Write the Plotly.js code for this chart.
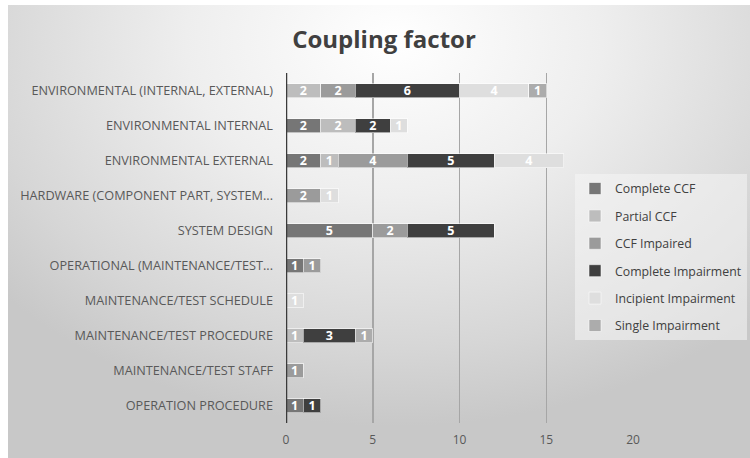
<!DOCTYPE html>
<html>
<head>
<meta charset="utf-8">
<script src="https://cdn.plot.ly/plotly-3.0.1.min.js"></script>
<style>
html,body{margin:0;padding:0;background:#fff;}
#bg{position:absolute;left:8px;top:5px;width:742px;height:453px;
 background:radial-gradient(ellipse 70% 85% at 52% 8%, #ffffff 0%, #eeeeee 40%, #d6d6d6 80%, #c8c8c8 100%);}
#chart{position:absolute;left:0;top:0;width:750px;height:458px;}
</style>
</head>
<body>
<div id="bg"></div>
<div id="chart"></div>
<script>
// categories, bottom to top
const categories = [
  "OPERATION PROCEDURE",
  "MAINTENANCE/TEST STAFF",
  "MAINTENANCE/TEST PROCEDURE",
  "MAINTENANCE/TEST SCHEDULE",
  "OPERATIONAL (MAINTENANCE/TEST...",
  "SYSTEM DESIGN",
  "HARDWARE (COMPONENT PART, SYSTEM...",
  "ENVIRONMENTAL EXTERNAL",
  "ENVIRONMENTAL INTERNAL",
  "ENVIRONMENTAL (INTERNAL, EXTERNAL)"
];
const completeCCF         = [1, 0, 0, 0, 1, 5, 0, 2, 2, 0];
const partialCCF          = [0, 0, 1, 0, 0, 0, 0, 1, 2, 2];
const ccfImpaired         = [0, 1, 0, 0, 1, 2, 2, 4, 0, 2];
const completeImpairment  = [1, 0, 3, 0, 0, 5, 0, 5, 2, 6];
const incipientImpairment = [0, 0, 0, 1, 0, 0, 1, 4, 1, 4];
const singleImpairment    = [0, 0, 1, 0, 0, 0, 0, 0, 0, 1];

const seriesNames = ["Complete CCF","Partial CCF","CCF Impaired","Complete Impairment","Incipient Impairment","Single Impairment"];
const seriesValues = [completeCCF, partialCCF, ccfImpaired, completeImpairment, incipientImpairment, singleImpairment];
const seriesColors = ["#767676","#bdbdbd","#9b9b9b","#3f3f3f","#dedede","#acacac"];

const traces = seriesNames.map((name, i) => ({
  type: 'bar',
  orientation: 'h',
  name: name,
  legendgroup: 'g' + i,
  y: categories,
  x: seriesValues[i].map(v => v === 0 ? null : v),
  text: seriesValues[i].map(v => v === 0 ? '' : String(v)),
  textposition: 'inside',
  insidetextanchor: 'middle',
  constraintext: 'none',
  textangle: 0,
  textfont: {family: 'Open Sans', size: 12.5, color: '#ffffff', weight: 'bold'},
  marker: {color: seriesColors[i], line: {color: 'rgba(255,255,255,0.55)', width: 1}},
  hoverinfo: 'x+name'
}));

const layout = {
  width: 750, height: 458,
  paper_bgcolor: 'rgba(0,0,0,0)',
  plot_bgcolor: 'rgba(0,0,0,0)',
  barmode: 'stack',
  bargap: 0.6,
  margin: {l: 286, r: 117, t: 73, b: 35, pad: 0, autoexpand: false},
  font: {family: 'Open Sans', color: '#595959'},
  title: {
    text: '<b>Coupling factor</b>',
    font: {family: 'Open Sans', size: 24, color: '#404040'},
    x: 384/750, xanchor: 'center', xref: 'container',
    y: 1 - 40/458, yanchor: 'middle', yref: 'container'
  },
  xaxis: {
    range: [0, 20],
    tickvals: [0, 5, 10, 15, 20],
    showgrid: true, gridcolor: '#a6a6a6', gridwidth: 1.5,
    zeroline: false, showline: false,
    tickfont: {family: 'Open Sans', size: 12, color: '#595959'},
    ticks: '', ticklabelstandoff: 8
  },
  yaxis: {
    type: 'category',
    categoryorder: 'array', categoryarray: categories,
    showgrid: false, zeroline: false,
    showline: false,
    tickfont: {family: 'Open Sans', size: 12.7, color: '#595959'},
    ticks: '', ticklabelstandoff: 12
  },
  shapes: [{
    type: 'line', xref: 'x', yref: 'paper', x0: 0, x1: 0, y0: 0, y1: 1,
    line: {color: '#3a3a3a', width: 2.5}
  }],
  legend: {
    x: (575-286)/347, xanchor: 'left', xref: 'paper',
    y: (423-174)/350, yanchor: 'top', yref: 'paper',
    bgcolor: 'rgba(245,245,245,0.55)',
    borderwidth: 0,
    traceorder: 'grouped',
    tracegroupgap: 8.4,
    itemwidth: 30,
    font: {family: 'Open Sans', size: 12.3, color: '#404040'}
  },
  showlegend: true
};

Plotly.newPlot('chart', traces, layout, {displayModeBar: false, staticPlot: true});
</script>
</body>
</html>
